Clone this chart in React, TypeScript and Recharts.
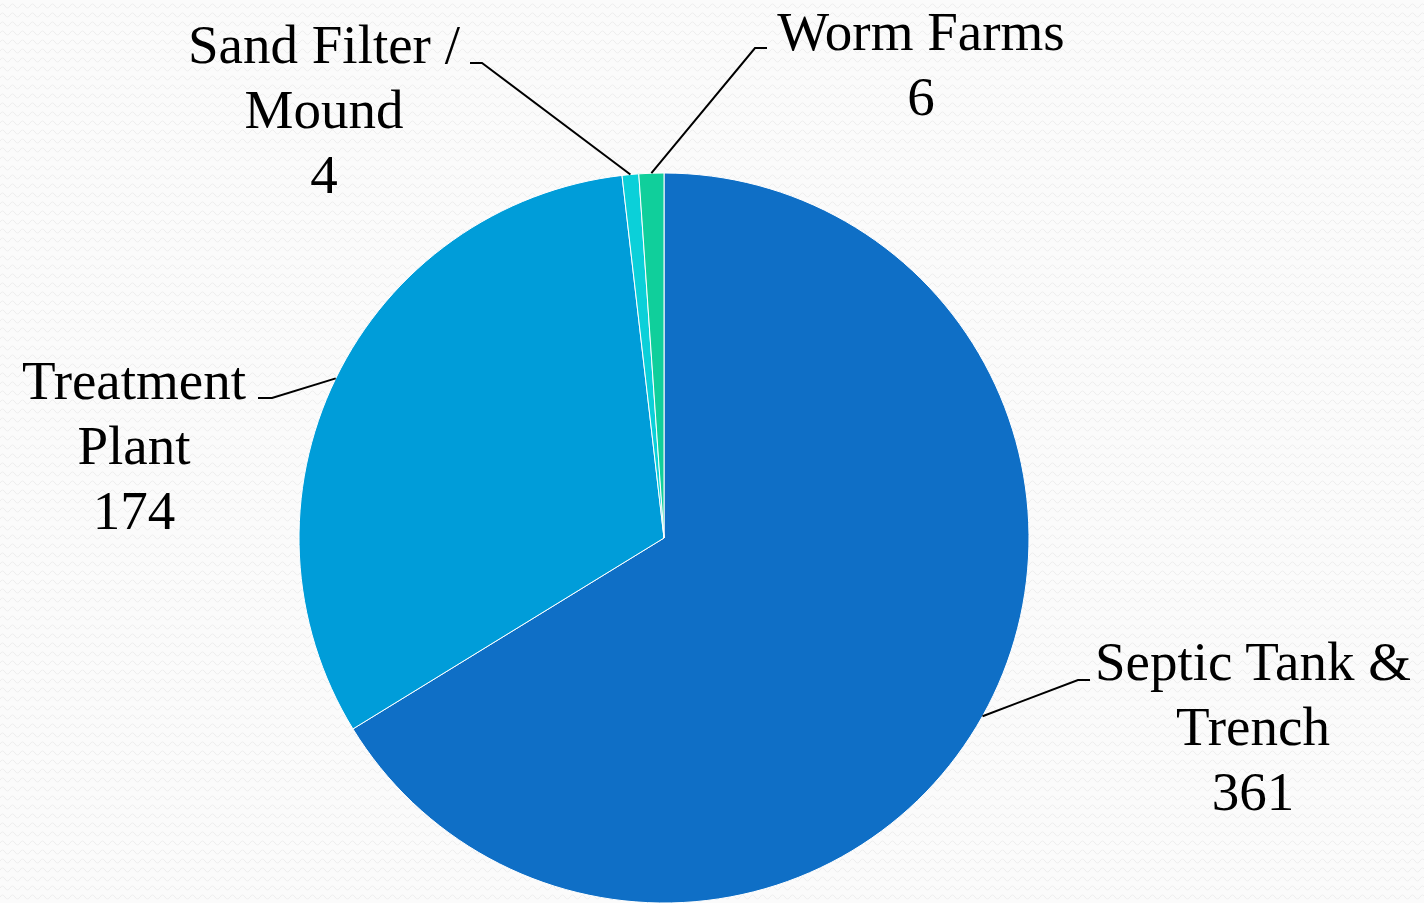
import { Cell, Pie, PieChart } from 'recharts';

const categories = ['Septic Tank & Trench', 'Treatment Plant', 'Sand Filter / Mound', 'Worm Farms'];
const values = [361, 174, 4, 6];
const labelLines = [['Septic Tank &', 'Trench'], ['Treatment', 'Plant'], ['Sand Filter /', 'Mound'], ['Worm Farms']];
const colors = ['#0F6FC6', '#009DD9', '#0BD0D9', '#10CF9B'];

// where each callout sits: elbow of the leader, end of the short tick, text centre, first baseline
const calloutLayout = [
  { elbowX: 1078, elbowY: 680, endX: 1090, textX: 1253, baseY: 680 },
  { elbowX: 272, elbowY: 398, endX: 258, textX: 134, baseY: 399 },
  { elbowX: 482, elbowY: 63, endX: 470, textX: 324, baseY: 63 },
  { elbowX: 755, elbowY: 48, endX: 767, textX: 921, baseY: 50 },
];

const RAD = Math.PI / 180;
const LINE_H = 65;

const renderCallout = (props: any) => {
  const { cx, cy, midAngle, outerRadius, index } = props;
  const lay = calloutLayout[index];
  const sx = cx + outerRadius * Math.cos(-midAngle * RAD);
  const sy = cy + outerRadius * Math.sin(-midAngle * RAD);
  const lines = [...labelLines[index], String(values[index])];
  return (
    <g key={`callout-${index}`}>
      <polyline
        points={`${sx},${sy} ${lay.elbowX},${lay.elbowY} ${lay.endX},${lay.elbowY}`}
        fill="none"
        stroke="#000"
        strokeWidth={2}
      />
      <text
        x={lay.textX}
        y={lay.baseY}
        textAnchor="middle"
        fontFamily="'Liberation Serif', serif"
        fontSize={55}
        fill="#000"
      >
        {lines.map((l, i) => (
          <tspan key={i} x={lay.textX} dy={i === 0 ? 0 : LINE_H}>
            {l}
          </tspan>
        ))}
      </text>
    </g>
  );
};

export default function App() {
  const data = categories.map((c, i) => ({ name: c, value: values[i] }));

  return (
    <div style={{ position: 'fixed', left: 0, top: 0, width: 1424, height: 903, background: '#fbfbfb' }}>
      <svg width={1424} height={903} style={{ position: 'absolute', left: 0, top: 0 }}>
        <defs>
          <pattern id="waves" width={10} height={9} patternUnits="userSpaceOnUse">
            <path d="M0 6 Q2.5 2 5 6 T10 6" fill="none" stroke="#ededed" strokeWidth={1} />
          </pattern>
        </defs>
        <rect width={1424} height={903} fill="url(#waves)" />
      </svg>
      <PieChart
        width={1424}
        height={903}
        margin={{ top: 0, right: 0, bottom: 0, left: 0 }}
        style={{ position: 'absolute', left: 0, top: 0 }}
      >
        <Pie
          data={data}
          dataKey="value"
          nameKey="name"
          cx={664}
          cy={538}
          outerRadius={365}
          startAngle={90}
          endAngle={-270}
          stroke="#ffffff"
          strokeWidth={1}
          label={renderCallout}
          labelLine={false}
          isAnimationActive={false}
        >
          {data.map((d, i) => (
            <Cell key={d.name} fill={colors[i]} />
          ))}
        </Pie>
      </PieChart>
    </div>
  );
}
